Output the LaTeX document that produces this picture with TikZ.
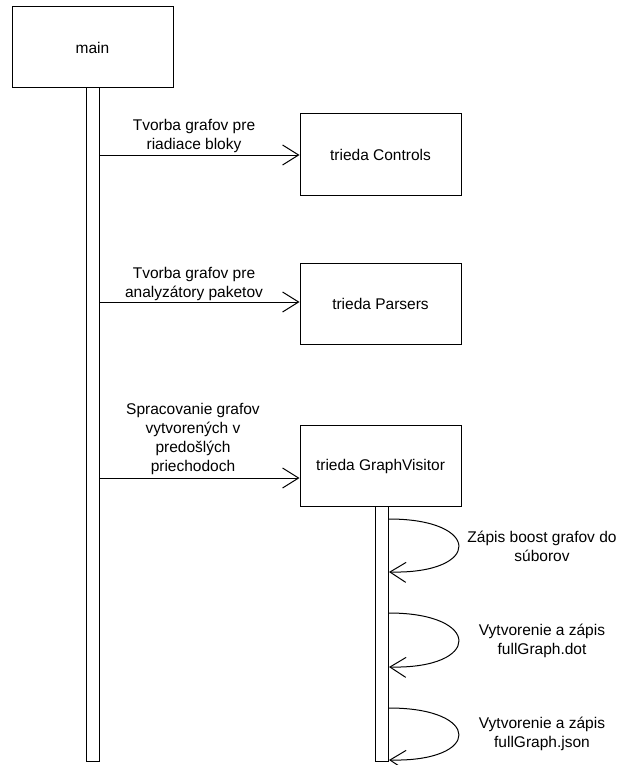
\documentclass[tikz,border=0pt]{standalone}
\usepackage{fontspec}
\setmainfont{Liberation Sans}
\usetikzlibrary{arrows.meta}
\tikzstyle{box}=[draw, line width=1pt, minimum width=161pt, minimum height=81pt, font=\fontsize{15.5}{19}\selectfont]
\tikzstyle{bar}=[draw, line width=1pt, inner sep=0pt, minimum width=13pt]
\tikzstyle{lbl}=[align=center, inner sep=0pt, font=\fontsize{15.5}{19}\selectfont]
\tikzstyle{arrow}=[draw=black, line width=1pt, ->, >={Straight Barb[length=16pt, width=20pt]}]

\begin{document}
\begin{tikzpicture}[x=1pt, y=-1pt]
		   \useasboundingbox (0,0) rectangle (621,765);
		   \begin{scope}
			   \node (main) at (92.5, 47.5)[box] {main};
			   \node (ctrl) at (380.5, 154.5)[box] {trieda Controls};
			   \node (pars) at (380.5, 303.5)[box] {trieda Parsers};
			   \node (visit) at (380.5, 466)[box] {trieda GraphVisitor};
			   \node (mainbar) at (92.5, 424.5)[bar, minimum height=673pt] {};
			   \node (visitbar) at (382, 633.5)[bar, minimum height=255pt] {};
		   \end{scope}
		   \begin{scope}
			   \coordinate (m1) at (99, 155);
			   \coordinate (m2) at (99, 302);
			   \coordinate (m3) at (99, 478);
			   \coordinate (v1a) at (389, 519);
			   \coordinate (v1b) at (389, 572);
			   \coordinate (v2a) at (389, 613);
			   \coordinate (v2b) at (389, 667);
			   \coordinate (v3a) at (389, 708);
			   \coordinate (v3b) at (389, 760);
		   \end{scope}
		   \begin{scope}
			   \path (m1) edge [arrow] (ctrl.west |- m1);
			   \path (m2) edge [arrow] (pars.west |- m2);
			   \path (m3) edge [arrow] (visit.west |- m3);
			   \draw [arrow] (v1a) .. controls (482, 519) and (482, 574) .. (v1b);
			   \draw [arrow] (v2a) .. controls (482, 613) and (482, 669) .. (v2b);
			   \draw [arrow] (v3a) .. controls (482, 708) and (482, 762) .. (v3b);
		   \end{scope}
		   \begin{scope}
			   \node (l1) at (194, 136)[lbl] {Tvorba grafov pre\\riadiace bloky};
			   \node (l2) at (194, 284)[lbl] {Tvorba grafov pre\\analyzátory paketov};
			   \node (l3) at (193, 438.5)[lbl] {Spracovanie grafov\\vytvorených v\\predošlých\\priechodoch};
			   \node (l4) at (542, 546)[lbl] {Zápis boost grafov do\\súborov};
			   \node (l5) at (542, 641)[lbl] {Vytvorenie a zápis\\fullGraph.dot};
			   \node (l6) at (542, 734)[lbl] {Vytvorenie a zápis\\fullGraph.json};
		   \end{scope}
	   \end{tikzpicture}
\end{document}
